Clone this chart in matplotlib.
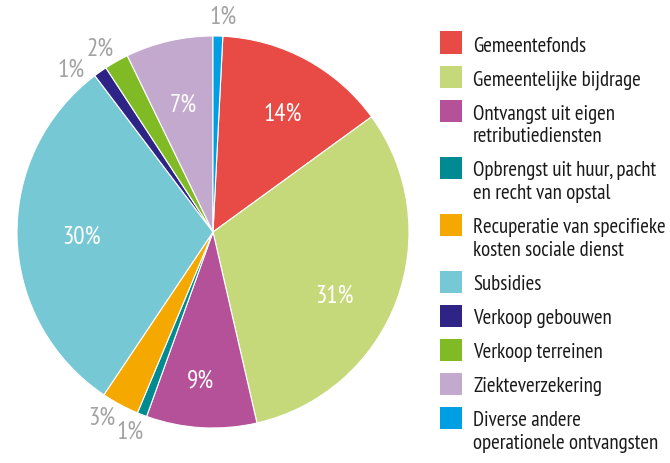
import matplotlib
matplotlib.use("Agg")
import matplotlib.pyplot as plt
from matplotlib.patches import Rectangle
import numpy as np

# ---- data ----
categories = [
    "Gemeentefonds",
    "Gemeentelijke bijdrage",
    "Ontvangst uit eigen\nretributiediensten",
    "Opbrengst uit huur, pacht\nen recht van opstal",
    "Recuperatie van specifieke\nkosten sociale dienst",
    "Subsidies",
    "Verkoop gebouwen",
    "Verkoop terreinen",
    "Ziekteverzekering",
    "Diverse andere\noperationele ontvangsten",
]
values = [14.2, 31.4, 9.1, 0.8, 3.1, 30.3, 1.1, 2.0, 7.2, 0.8]
colors = ["#E84A45", "#C5D97A", "#B45198", "#008A92", "#F5A800",
          "#77C8D5", "#2E2485", "#80BB26", "#C4A9CF", "#009FE3"]

FONT = ["PT Sans Narrow", "Roboto Condensed", "DejaVu Sans"]
plt.rcParams["font.family"] = FONT

W, H = 670, 464
fig = plt.figure(figsize=(W / 100, H / 100), dpi=100)

# pie axes: center (213,233) px, radius 196 px
cx, cy, r = 213, 233, 196
ax = fig.add_axes([(cx - r) / W, (H - cy - r) / H, 2 * r / W, 2 * r / H])
total = sum(values)
start = 90 - 360 * values[-1] / total
wedges, _ = ax.pie(values, colors=colors, startangle=start, counterclock=False,
                   radius=1.0,
                   wedgeprops=dict(edgecolor="white", linewidth=0.8))
ax.set_xlim(-1, 1)
ax.set_ylim(-1, 1)
ax.set_aspect("equal")
ax.axis("off")

# label placement tweaks (radius, angle nudge in degrees)
label_pos = [(0.705, -2), (0.70, -7), (0.76, -1.5), (1.10, -1.3), (1.10, -2.8),
             (0.67, 0), (1.10, 6), (1.10, 2), (0.67, 0), (1.10, -1.3)]
for w, v, (rad, nud) in zip(wedges, values, label_pos):
    ang = np.deg2rad((w.theta1 + w.theta2) / 2 + nud)
    pct = round(v / total * 100)
    inside = v >= 5
    ax.text(rad * np.cos(ang), rad * np.sin(ang), f"{pct}%",
            ha="center", va="center", fontsize=18,
            color="white" if inside else "#A3A3A3", clip_on=False)

# ---- manual legend ----
sq = 22
x_sq = 440
x_txt = 473
y_center = 43.5
line_h = 23.0
for cat, col in zip(categories, colors):
    lines = cat.split("\n")
    fig.add_artist(Rectangle((x_sq / W, (H - y_center - sq / 2) / H), sq / W, sq / H,
                             transform=fig.transFigure, facecolor=col,
                             edgecolor="none"))
    for i, ln in enumerate(lines):
        yb = y_center + 8 + i * line_h
        fig.text(x_txt / W, (H - yb) / H, ln, ha="left", va="baseline",
                 fontsize=15, color="#1A1A1A")
    y_center += 34 + line_h * (len(lines) - 1)

fig.savefig("out.png", dpi=100, facecolor="white")
